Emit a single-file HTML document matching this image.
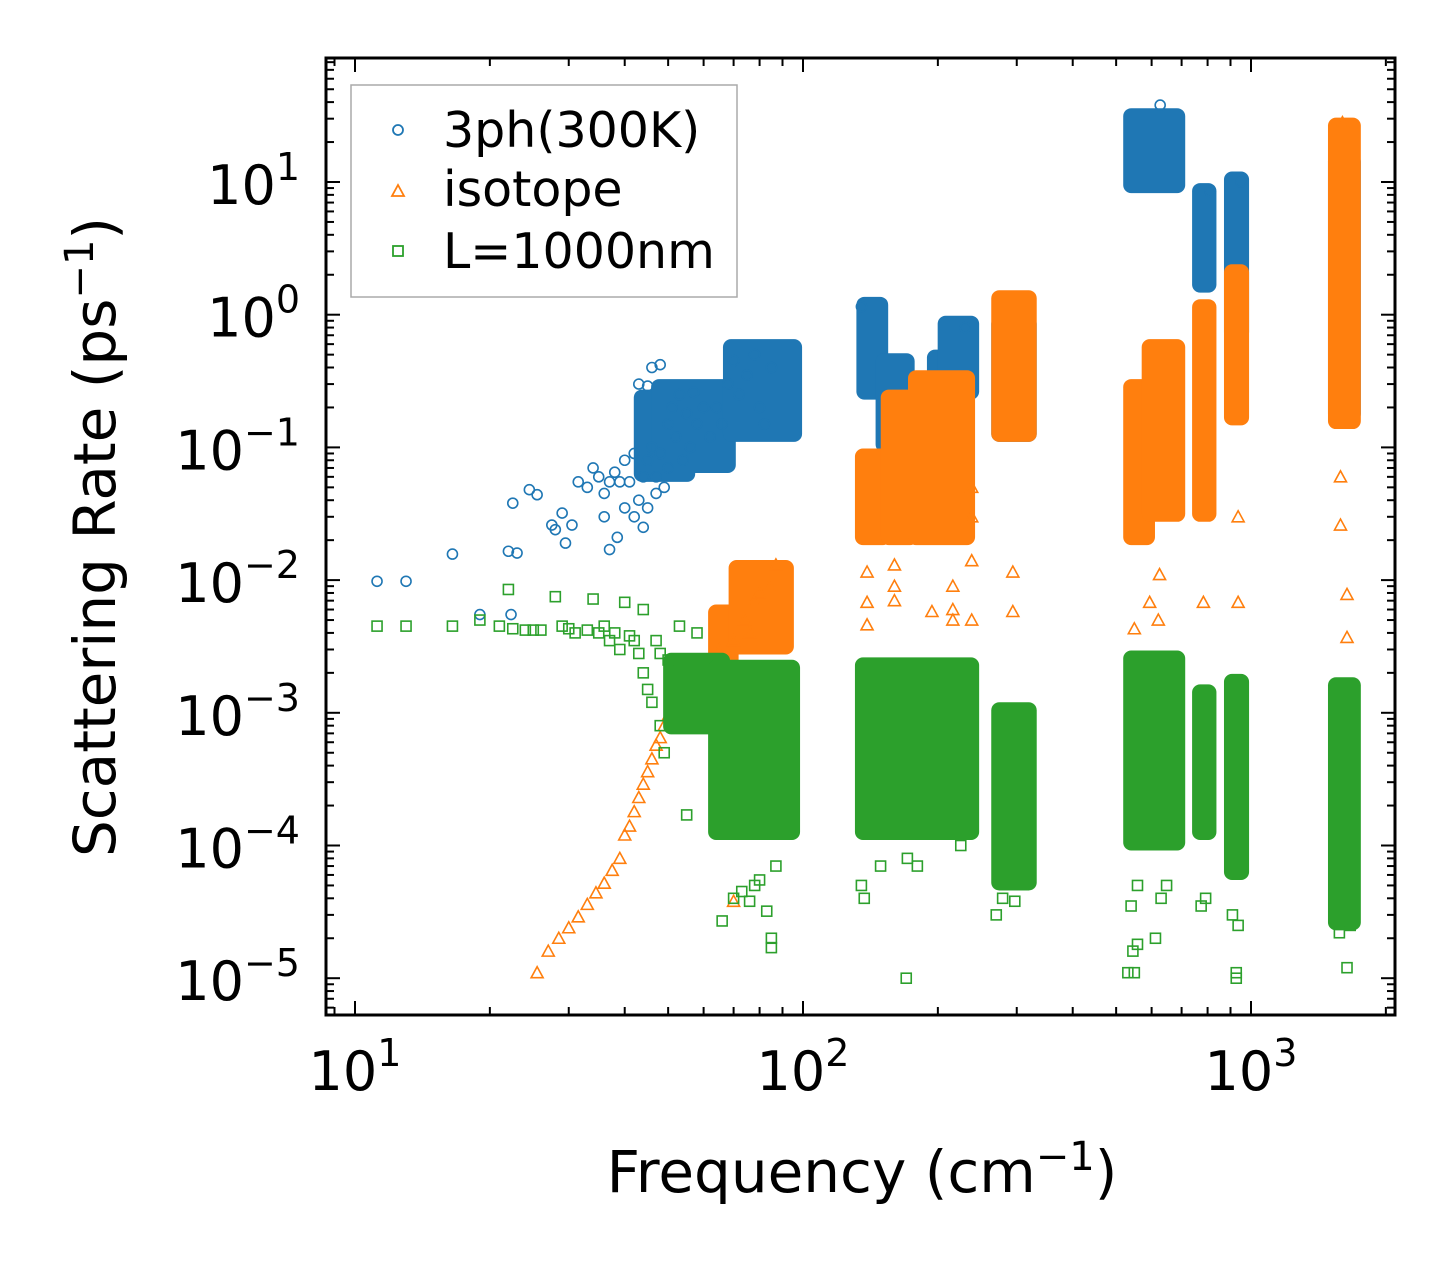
<!DOCTYPE html>
<html><head><meta charset="utf-8"><style>
html,body{margin:0;padding:0;background:#fff;}
svg{display:block;font-family:"DejaVu Sans","Liberation Sans",sans-serif;}
</style></head><body>
<svg id="chart" width="1455" height="1265" viewBox="0 0 1455 1265" xmlns="http://www.w3.org/2000/svg">
<g id="marks"></g>
<g id="axes"></g>
<g id="legend">
 <rect x="351" y="85" width="386" height="212" fill="#fff" stroke="#aaa" stroke-width="1.5"/>
 <circle cx="398" cy="130" r="5" fill="none" stroke="#1f77b4" stroke-width="1.8"/>
 <text x="443" y="147" font-size="49">3ph(300K)</text>
 <path d="M392,196 L404,196 L398,185 Z" fill="none" stroke="#ff7f0e" stroke-width="1.8"/>
 <text x="443" y="206" font-size="49">isotope</text>
 <rect x="393" y="246" width="10" height="10" fill="none" stroke="#2ca02c" stroke-width="1.8"/>
 <text x="443" y="268" font-size="49">L=1000nm</text>
</g>
<text x="862" y="1192" font-size="58" text-anchor="middle">Frequency (cm<tspan dy="-22" font-size="40">−1</tspan><tspan dy="22">)</tspan></text>
<text transform="translate(115,537) rotate(-90)" font-size="58" text-anchor="middle">Scattering Rate (ps<tspan dy="-22" font-size="40">−1</tspan><tspan dy="22">)</tspan></text>
</svg>
<script>
const L=326,R=1395,T=58,B=1015;
const xDecadePx=448, x10=355;
const yDecadePx=132.7, y1e1=182;
function X(f){return x10+(Math.log10(f)-1)*xDecadePx;}
function Y(r){return y1e1-(Math.log10(r)-1)*yDecadePx;}

// 3ph (300K) points [freq, rate]
const bluePts=[[11.2,0.0098],[13,0.0098],[16.5,0.0157],[19,0.0055],[22,0.0165],[22.3,0.0055],[22.5,0.038],[23,0.016],[24.5,0.048],[25.5,0.044],[27.5,0.026],[28,0.024],[29,0.032],[29.5,0.019],[30.5,0.026],[31.5,0.055],[33,0.05],[34,0.07],[35,0.06],[36,0.045],[36,0.03],[37,0.017],[37,0.055],[38,0.065],[38.5,0.021],[39,0.055],[40,0.08],[40,0.035],[41,0.055],[42,0.09],[42,0.03],[43,0.3],[43,0.04],[44,0.06],[44,0.025],[45,0.08],[45,0.29],[45,0.035],[46,0.4],[46,0.1],[47,0.06],[47,0.045],[48,0.42],[48,0.09],[49,0.05],[50,0.07],[50,0.15],[51,0.2],[52,0.12],[53,0.25],[54,0.08],[55,0.18],[56,0.1],[57,0.26],[58,0.15],[60,0.2],[62,0.12],[64,0.2],[66,0.15],[68,0.3],[70,0.45],[72,0.25],[75,0.35],[78,0.5],[80,0.2],[82,0.15],[85,0.4],[135,1.15],[230,0.8],[627,38],[810,8.5],[950,10]];
// dense clusters [fLo, fHi, rLo, rHi]
const blueClusters=[[43,56,0.06,0.25],[47,69,0.07,0.3],[68,97,0.12,0.6],[135,151,0.25,1.25],[149,173,0.1,0.47],[194,209,0.13,0.5],[205,241,0.25,0.9],[270,324,0.12,0.9],[532,695,9,33],[758,816,1.6,9],[893,965,0.7,11],[1524,1714,0.17,15]];

// isotope
const orangePts=[[25.5,1.1e-5],[27,1.6e-5],[28.5,2.0e-5],[30,2.4e-5],[31.5,2.9e-5],[33,3.6e-5],[34.5,4.4e-5],[36,5.2e-5],[37.5,6.5e-5],[39,8e-5],[40,1.2e-4],[41,1.4e-4],[42,1.8e-4],[43,2.3e-4],[44,2.9e-4],[45,3.6e-4],[46,4.5e-4],[47,5.7e-4],[48,6.5e-4],[49,8e-4],[50,9.5e-4],[52,1.1e-3],[55,1.5e-3],[58,1.9e-3],[62,2.4e-3],[65,3e-3],[68,2e-3],[70,3.5e-3],[72,1.2e-3],[74,5e-3],[76,4e-3],[78,7e-3],[80,8e-3],[84,9e-3],[87,0.013],[70,3.8e-5],[139,0.0115],[139,0.0068],[139,0.0046],[139,0.0022],[160,0.013],[160,0.009],[160,0.007],[194,0.0058],[194,0.0022],[216,0.009],[216,0.006],[216,0.005],[238,0.05],[238,0.03],[238,0.014],[238,0.005],[294,0.0115],[294,0.0058],[549,0.0043],[594,0.0068],[621,0.005],[625,0.011],[783,0.0068],[936,0.0068],[936,0.03],[1584,0.06],[1584,0.026],[1638,0.0078],[1638,0.0037],[1600,28]];
const orangeClusters=[[63,70,0.0015,0.006],[70,93,0.003,0.013],[134,153,0.02,0.09],[153,176,0.02,0.25],[176,236,0.02,0.35],[270,324,0.12,1.4],[532,595,0.02,0.3],[585,695,0.03,0.6],[758,816,0.03,1.2],[893,965,0.16,2.2],[1524,1714,0.15,28]];

// boundary L=1000nm
const greenPts=[[11.2,0.0045],[13,0.0045],[16.5,0.0045],[19,0.005],[21,0.0045],[22,0.0085],[22.5,0.0043],[24,0.0042],[25,0.0042],[26,0.0042],[28,0.0075],[29,0.0045],[30,0.0043],[31,0.004],[33,0.0042],[34,0.0072],[35,0.004],[36,0.0045],[37,0.0035],[38,0.004],[39,0.003],[40,0.0068],[41,0.0038],[42,0.0035],[43,0.0028],[44,0.006],[44,0.002],[45,0.0015],[46,0.0012],[47,0.0035],[48,0.0028],[48,0.0008],[49,0.0005],[50,0.0025],[52,0.0015],[53,0.0045],[55,0.00017],[58,0.004],[66,0.000027],[70,0.00004],[73,0.000045],[76,0.000038],[78,0.00005],[80,0.000055],[83,0.000032],[85,0.00002],[85,0.000017],[87,0.00007],[170,0.00001],[531,1.1e-5],[549,1.1e-5],[545,1.6e-5],[558,1.8e-5],[612,2e-5],[927,1.1e-5],[927,1e-5],[1638,1.2e-5],[621,0.0025],[135,5e-5],[137,4e-5],[149,7e-5],[171,8e-5],[180,7e-5],[225,1e-4],[270,3e-5],[279,4e-5],[297,3.8e-5],[540,3.5e-5],[558,5e-5],[630,4e-5],[648,5e-5],[774,3.5e-5],[792,4e-5],[909,3e-5],[936,2.5e-5],[936,1e-4],[1575,2.2e-5],[1665,2.5e-5]];
const greenClusters=[[50,67,0.00075,0.0026],[63,96,0.00012,0.0023],[134,241,0.00012,0.0024],[270,324,0.00005,0.0011],[532,695,0.0001,0.0027],[758,816,0.00012,0.0015],[893,965,0.00006,0.0018],[1524,1714,0.000025,0.0017]];

const xTickVals=[10,100,1000];
const xTickExp=["1","2","3"];
const yTickVals=[1e1,1e0,1e-1,1e-2,1e-3,1e-4,1e-5];
const yTickExp=["1","0","−1","−2","−3","−4","−5"];

const NS="http://www.w3.org/2000/svg";
const marks=document.getElementById('marks');
const axes=document.getElementById('axes');
function el(tag,attrs,parent){const e=document.createElementNS(NS,tag);for(const k in attrs)e.setAttribute(k,attrs[k]);parent.appendChild(e);return e;}

function drawClusters(list,color,name){
  list.forEach(c=>{
    const x1=X(c[0])-5,x2=X(c[1])+5,y1=Y(c[3])-5,y2=Y(c[2])+5;
    const r=el('rect',{x:x1,y:y1,width:x2-x1,height:y2-y1,rx:8,fill:color},marks);
    
    
  });
}
function drawPts(list,color,shape,name){
  list.forEach(p=>{
    const x=X(p[0]),y=Y(p[1]);let m;
    if(shape==='c') m=el('circle',{cx:x,cy:y,r:5,fill:'none',stroke:color,'stroke-width':1.6},marks);
    else if(shape==='t') m=el('path',{d:`M${x-6},${y+5}L${x+6},${y+5}L${x},${y-6}Z`,fill:'none',stroke:color,'stroke-width':1.6},marks);
    else m=el('rect',{x:x-5,y:y-5,width:10,height:10,fill:'none',stroke:color,'stroke-width':1.6},marks);
    
    
  });
}
drawClusters(blueClusters,'#1f77b4','3ph');
drawPts(bluePts,'#1f77b4','c','3ph');
drawClusters(orangeClusters,'#ff7f0e','isotope');
drawPts(orangePts,'#ff7f0e','t','isotope');
drawClusters(greenClusters,'#2ca02c','boundary');
drawPts(greenPts,'#2ca02c','s','boundary');

const fr=el('rect',{x:L,y:T,width:R-L,height:B-T,fill:'none',stroke:'#000','stroke-width':3},axes);



const xMinF=Math.pow(10,1+(L-x10)/xDecadePx), xMaxF=Math.pow(10,1+(R-x10)/xDecadePx);
for(let d=0;d<=3;d++){for(let m=1;m<=9;m++){const f=m*Math.pow(10,d);if(f<xMinF||f>xMaxF)continue;const x=X(f);const len=m===1?14:8;
  el('line',{x1:x,y1:B,x2:x,y2:B-len,stroke:'#000','stroke-width':2},axes);
  el('line',{x1:x,y1:T,x2:x,y2:T+len,stroke:'#000','stroke-width':2},axes);}}
xTickVals.forEach((v,i)=>{const t=el('text',{x:X(v),y:1090,'font-size':54,'text-anchor':'middle'},axes);
  t.innerHTML='10<tspan dy="-24" font-size="38">'+xTickExp[i]+'</tspan>';
  
  });
const yMin=Math.pow(10,1-(B-y1e1)/yDecadePx), yMax=Math.pow(10,1+(y1e1-T)/yDecadePx);
for(let d=-6;d<=1;d++){for(let m=1;m<=9;m++){const r=m*Math.pow(10,d);if(r<yMin||r>yMax)continue;const y=Y(r);const len=m===1?14:8;
  el('line',{x1:L,y1:y,x2:L+len,y2:y,stroke:'#000','stroke-width':2},axes);
  el('line',{x1:R,y1:y,x2:R-len,y2:y,stroke:'#000','stroke-width':2},axes);}}
yTickVals.forEach((v,i)=>{const t=el('text',{x:300,y:Y(v)+22,'font-size':54,'text-anchor':'end'},axes);
  t.innerHTML='10<tspan dy="-24" font-size="38">'+yTickExp[i]+'</tspan>';
  
  });
</script>
</body></html>
